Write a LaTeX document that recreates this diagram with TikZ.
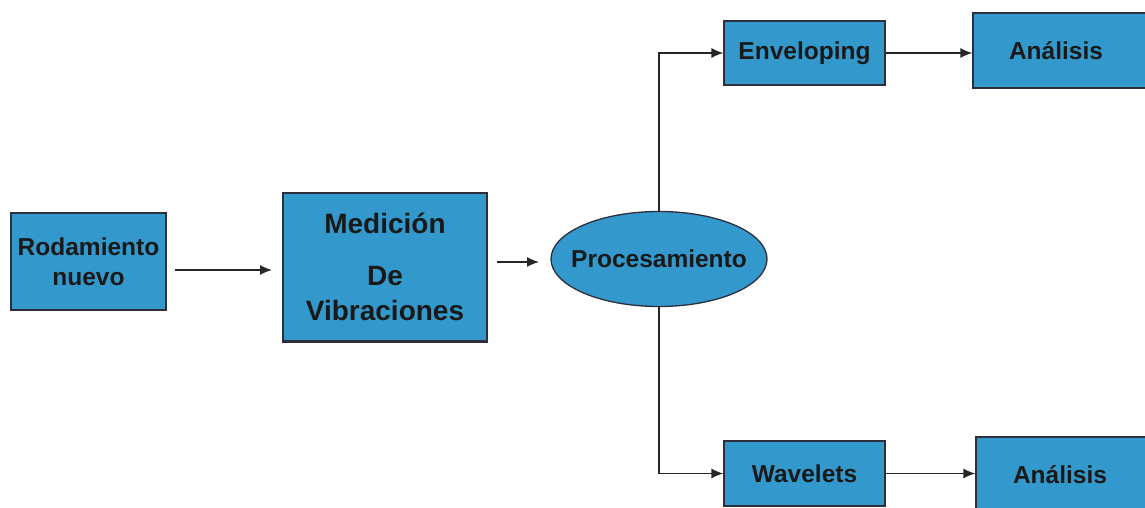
\documentclass[tikz,border=0pt]{standalone}
\usepackage{fontspec}
\setmainfont{Liberation Sans}
\usetikzlibrary{shapes.geometric,arrows.meta}
\definecolor{boxfill}{RGB}{51,153,204}
\definecolor{boxline}{RGB}{45,45,60}
\tikzset{
  blk/.style={draw=boxline, line width=1.3pt, fill=boxfill, inner sep=0pt, align=center,
    font=\fontsize{24.5}{30}\selectfont\bfseries, text=black!90},
  oval/.style={blk, ellipse},
  lbl/.style={inner sep=0pt, font=\fontsize{24.5}{30}\selectfont\bfseries, text=black!90},
  arr/.style={draw=black!85, line width=1.3pt, -{Latex[length=12pt,width=10pt]}},
}
\begin{document}
\begin{tikzpicture}[x=1pt,y=-1pt]
\useasboundingbox (0,0) rectangle (1145,508);
\clip (0,0) rectangle (1145,508);
\node[blk, minimum width=155, minimum height=97] (rod) at (88.5,261.5) {Rodamiento\\nuevo};
\node[blk, minimum width=204, minimum height=148, font=\fontsize{28}{35}\selectfont\bfseries] (med) at (385,267) {Medición\\[17pt]De\\Vibraciones};
\draw[boxline, line width=2.6pt] (med.south west) -- (med.south east);
\node[oval, minimum width=216, minimum height=95] (proc) at (659,259) {};
\node[lbl] (proctxt) at (proc.center) {Procesamiento};
\node[blk, minimum width=161, minimum height=64] (env) at (804.5,53) {Enveloping};
\node[blk, minimum width=177, minimum height=75] (an1) at (1061.5,50.5) {Análisis\hspace*{11pt}};
\node[blk, minimum width=161, minimum height=65] (wav) at (804.5,473.5) {Wavelets};
\node[blk, minimum width=174, minimum height=78] (an2) at (1063,476) {\raisebox{3pt}{Análisis}\hspace*{6pt}};
\coordinate (a1s) at (175,270);
\coordinate (a1e) at (272,270);
\coordinate (a2s) at (497,262);
\coordinate (a2e) at (539,262);
\draw[arr] (a1s) -- (a1e);
\draw[arr] (a2s) -- (a2e);
\draw[arr] (proc.north) |- (env.west);
\draw[arr] (proc.south) |- (wav.west);
\draw[arr] (env.east) -- (an1.west |- env.east);
\draw[arr] (wav.east) -- (an2.west |- wav.east);
\end{tikzpicture}
\end{document}
